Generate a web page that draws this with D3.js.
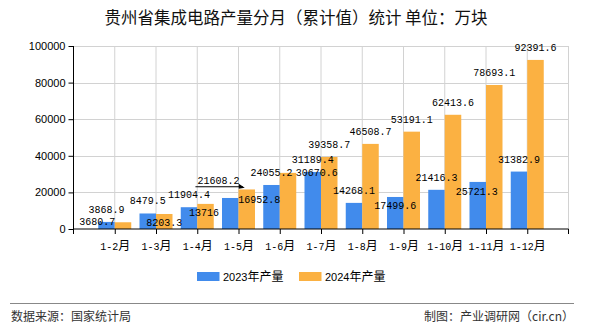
<!DOCTYPE html>
<html>
<head>
<meta charset="utf-8">
<script src="https://cdn.jsdelivr.net/npm/d3@7"></script>
<style>
  html, body { margin: 0; padding: 0; background: #fff; }
  svg { display: block; }
</style>
</head>
<body>
<svg id="chart" width="590" height="330"></svg>
<script>
const categories = ["1-2月","1-3月","1-4月","1-5月","1-6月","1-7月","1-8月","1-9月","1-10月","1-11月","1-12月"];
const values2023 = [3868.9, 8479.5, 11904.4, 16952.8, 24055.2, 31189.4, 14268.1, 17499.6, 21416.3, 25721.3, 31382.9];
const values2024 = [3680.7, 8203.3, 13716, 21608.2, 30670.6, 39358.7, 46508.7, 53191.1, 62413.6, 78693.1, 92391.6];
const seriesNames = ["2023年产量", "2024年产量"];
const yTicks = [0, 20000, 40000, 60000, 80000, 100000];
const titleText = "贵州省集成电路产量分月（累计值）统计 单位：万块";
const sourceText = "数据来源：国家统计局";
const makerText = "制图：产业调研网（cir.cn）";

(function () {
const colors = ["#418bec", "#fbb142"];
const svg = d3.select("#chart");
svg.append("rect").attr("width", 590).attr("height", 330).attr("fill", "#fff");

const pLeft = 73.5, pRight = 568.5, pTop = 46, pBottom = 229;
const x = d3.scalePoint().domain(categories).range([pLeft, pRight]).padding(1);
const y = d3.scaleLinear().domain([0, 100000]).range([pBottom, pTop]);
const barW = 16.5;

// title
svg.append("text").attr("x", 296).attr("y", 24).attr("text-anchor", "middle")
  .attr("font-family", "'Noto Sans CJK SC'").attr("font-size", 16.5).attr("fill", "#111")
  .text(titleText);

// grid
const grid = svg.append("g").attr("stroke", "#d2d2d2").attr("stroke-width", 1);
yTicks.filter(t => t > 0).forEach(t => {
  grid.append("line").attr("x1", pLeft).attr("x2", pRight).attr("y1", Math.round(y(t)) + 0.5).attr("y2", Math.round(y(t)) + 0.5);
});
categories.forEach(c => {
  grid.append("line").attr("x1", x(c)).attr("x2", x(c)).attr("y1", pTop).attr("y2", pBottom);
});
grid.append("line").attr("x1", pRight).attr("x2", pRight).attr("y1", pTop).attr("y2", pBottom);

// bars
const series = [values2023, values2024];
series.forEach((vals, si) => {
  svg.append("g").selectAll("rect").data(vals).join("rect")
    .attr("x", (d, i) => x(categories[i]) + (si === 0 ? -barW : 0))
    .attr("width", barW)
    .attr("y", d => y(d))
    .attr("height", d => pBottom - y(d))
    .attr("fill", colors[si]);
});

// axes
const yAxis = d3.axisLeft(y).tickValues(yTicks).tickSize(5).tickPadding(3).tickFormat(d3.format("d"));
const gy = svg.append("g").attr("transform", `translate(${pLeft},0)`).call(yAxis);
gy.selectAll("text").attr("font-family", "'Liberation Sans', Arial").attr("font-size", 11).attr("fill", "#000");
gy.selectAll("line, path").attr("stroke", "#000");
gy.select(".domain").attr("d", `M0,${pTop}V${pBottom}`);

const xAxis = d3.axisBottom(x).tickSize(5).tickPadding(5);
const gx = svg.append("g").attr("transform", `translate(0,${pBottom})`).call(xAxis);
gx.selectAll("line, path").attr("stroke", "#000");
gx.select(".domain").attr("d", `M${pLeft},0H${pRight}`);
gx.selectAll("text").attr("font-size", 12).attr("fill", "#000").attr("dy", "0.95em")
  .each(function(d) {
    const t = d3.select(this); t.text(null);
    const m = d.match(/^(.*?)(月)$/);
    t.append("tspan").attr("font-family", "'Liberation Mono', monospace").attr("font-size", 10).text(m[1]);
    t.append("tspan").attr("font-family", "'Noto Sans CJK SC'").attr("font-size", 12).text(m[2]);
  });
[pLeft, pRight].forEach(px => {
  gx.append("line").attr("x1", px).attr("x2", px).attr("y1", 0).attr("y2", 5).attr("stroke", "#000");
});

// data labels
const nudges = [
  {3: [29, 13.6], 7: [0, 20.6], 9: [-1, 21.6]},
  {0: [-25.7, 12], 1: [0, 20.7], 2: [-1.5, 21], 3: [-28.3, 3.3], 4: [28.8, 12]}
];
const lg = svg.append("g").attr("font-family", "'Liberation Mono', monospace").attr("font-size", 10).attr("fill", "#000");
series.forEach((vals, si) => {
  vals.forEach((v, i) => {
    const cx = x(categories[i]) + (si === 0 ? -barW / 2 : barW / 2);
    const n = nudges[si][i] || [0, 0];
    const tx = cx + n[0], ty = y(v) - 9 + n[1];
    lg.append("text").attr("x", tx).attr("y", ty).attr("text-anchor", "middle").text(String(v));
    if (si === 1 && i === 3) {
      const halfW = String(v).length * 3;
      const lx1 = tx - halfW - 2, lx2 = cx - 4, ly = ty + 3;
      lg.append("line").attr("x1", lx1).attr("x2", lx2).attr("y1", ly).attr("y2", ly)
        .attr("stroke", "#000").attr("stroke-width", 1);
      lg.append("path").attr("d", `M${lx2 - 4},${ly - 3}L${lx2 + 2},${ly + 1}L${lx2 - 4},${ly + 2}Z`).attr("fill", "#000");
    }
  });
});

// legend
const legend = svg.append("g");
const legX = [197, 299];
seriesNames.forEach((name, i) => {
  legend.append("rect").attr("x", legX[i]).attr("y", 272).attr("width", 22.5).attr("height", 9).attr("fill", colors[i]);
  const t = legend.append("text").attr("x", legX[i] + 26).attr("y", 281).attr("fill", "#000");
  t.append("tspan").attr("font-family", "'Liberation Sans', Arial").attr("font-size", 11).text(name.slice(0, 4));
  t.append("tspan").attr("font-family", "'Noto Sans CJK SC'").attr("font-size", 12).text(name.slice(4));
});

// footer
svg.append("line").attr("x1", 10).attr("x2", 574).attr("y1", 303.5).attr("y2", 303.5).attr("stroke", "#888").attr("stroke-width", 1);
svg.append("text").attr("x", 11).attr("y", 321).attr("font-family", "'Noto Sans CJK SC'").attr("font-size", 12).attr("fill", "#333").text(sourceText);
svg.append("text").attr("x", 574).attr("y", 321).attr("text-anchor", "end").attr("font-family", "'Noto Sans CJK SC'").attr("font-size", 12).attr("fill", "#333").text(makerText);
})();
</script>
</body>
</html>
